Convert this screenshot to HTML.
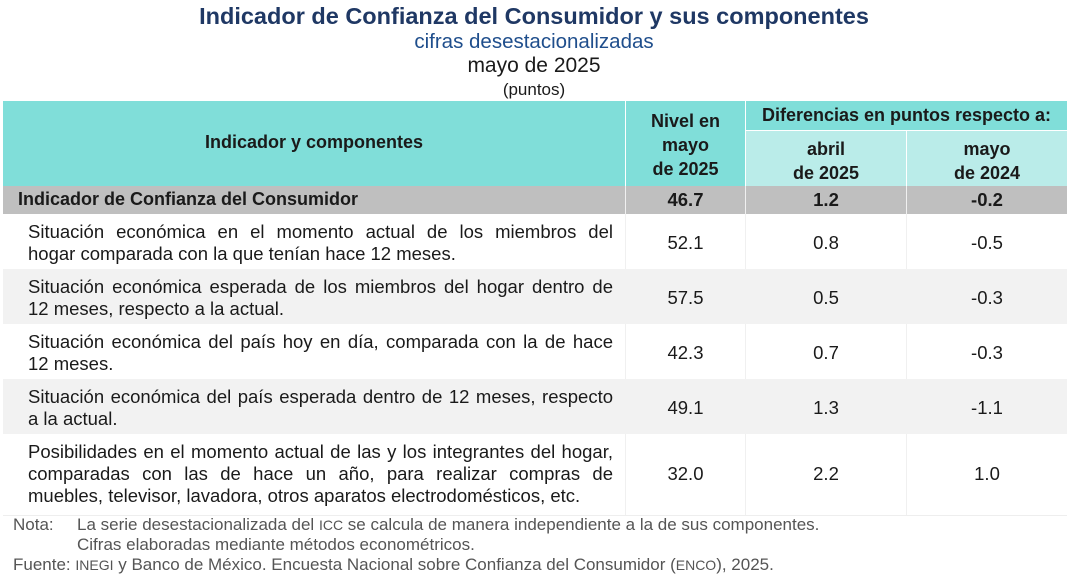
<!DOCTYPE html>
<html><head><meta charset="utf-8"><style>
body{margin:0;width:1068px;height:580px;background:#fff;font-family:"Liberation Sans",Arial,sans-serif;position:relative;overflow:hidden;color:#1a1a1a}
.a{position:absolute}
.c{text-align:center}
.t{font-size:18.5px;line-height:22px;white-space:nowrap}
.j{text-align:justify;text-align-last:justify;white-space:normal}
.n{font-size:18.5px;text-align:center}
.b{font-weight:bold}
.h{font-size:18px}
</style></head><body>
<div class="a c b" style="left:0;width:1068px;top:3px;font-size:23.5px;color:#1f3864">Indicador de Confianza del Consumidor y sus componentes</div>
<div class="a c" style="left:0;width:1068px;top:30px;font-size:20.5px;color:#1f4e8c">cifras desestacionalizadas</div>
<div class="a c" style="left:0;width:1068px;top:54px;font-size:21px">mayo de 2025</div>
<div class="a c" style="left:0;width:1068px;top:80px;font-size:17px">(puntos)</div>

<div class="a" style="left:3px;top:101px;width:1064px;height:85px;background:#80ded9"></div>
<div class="a" style="left:746px;top:131px;width:321px;height:55px;background:#baece9"></div>
<div class="a" style="left:625px;top:101px;width:1px;height:85px;background:#fff"></div>
<div class="a" style="left:745px;top:101px;width:1px;height:85px;background:#fff"></div>
<div class="a" style="left:746px;top:130px;width:321px;height:1px;background:#fff"></div>
<div class="a" style="left:906px;top:131px;width:1px;height:55px;background:#fff"></div>
<div class="a c b h" style="left:3px;width:622px;top:132px">Indicador y componentes</div>
<div class="a c b h" style="left:626px;width:119px;top:109px;line-height:24px">Nivel en<br>mayo<br>de 2025</div>
<div class="a c b h" style="left:746px;width:321px;top:105px">Diferencias en puntos respecto a:</div>
<div class="a c b h" style="left:746px;width:160px;top:137px;line-height:24px">abril<br>de 2025</div>
<div class="a c b h" style="left:907px;width:160px;top:137px;line-height:24px">mayo<br>de 2024</div>

<div class="a" style="left:3px;top:186px;width:1064px;height:28px;background:#bfbfbf"></div>
<div class="a b h" style="left:18px;top:189px">Indicador de Confianza del Consumidor</div>
<div class="a n b" style="left:626px;width:119px;top:189px">46.7</div>
<div class="a n b" style="left:746px;width:160px;top:189px">1.2</div>
<div class="a n b" style="left:907px;width:160px;top:189px">-0.2</div>
<div class="a" style="left:625px;top:186px;width:1px;height:329px;background:#f0f0f0"></div>
<div class="a" style="left:745px;top:186px;width:1px;height:329px;background:#f0f0f0"></div>
<div class="a" style="left:906px;top:186px;width:1px;height:329px;background:#f0f0f0"></div>

<div class="a" style="left:3px;top:269px;width:1064px;height:55px;background:#f2f2f2"></div>
<div class="a" style="left:3px;top:379px;width:1064px;height:55px;background:#f2f2f2"></div>

<div class="a t" style="left:28px;width:585px;top:221px"><div class="j">Situación económica en el momento actual de los miembros del</div><div>hogar comparada con la que tenían hace 12 meses.</div></div>
<div class="a n" style="left:626px;width:119px;top:232px">52.1</div><div class="a n" style="left:746px;width:160px;top:232px">0.8</div><div class="a n" style="left:907px;width:160px;top:232px">-0.5</div>

<div class="a t" style="left:28px;width:585px;top:276px"><div class="j">Situación económica esperada de los miembros del hogar dentro de</div><div>12 meses, respecto a la actual.</div></div>
<div class="a n" style="left:626px;width:119px;top:287px">57.5</div><div class="a n" style="left:746px;width:160px;top:287px">0.5</div><div class="a n" style="left:907px;width:160px;top:287px">-0.3</div>

<div class="a t" style="left:28px;width:585px;top:331px"><div class="j">Situación económica del país hoy en día, comparada con la de hace</div><div>12 meses.</div></div>
<div class="a n" style="left:626px;width:119px;top:342px">42.3</div><div class="a n" style="left:746px;width:160px;top:342px">0.7</div><div class="a n" style="left:907px;width:160px;top:342px">-0.3</div>

<div class="a t" style="left:28px;width:585px;top:386px"><div class="j">Situación económica del país esperada dentro de 12 meses, respecto</div><div>a la actual.</div></div>
<div class="a n" style="left:626px;width:119px;top:397px">49.1</div><div class="a n" style="left:746px;width:160px;top:397px">1.3</div><div class="a n" style="left:907px;width:160px;top:397px">-1.1</div>

<div class="a t" style="left:28px;width:585px;top:441px"><div class="j">Posibilidades en el momento actual de las y los integrantes del hogar,</div><div class="j">comparadas con las de hace un año, para realizar compras de</div><div>muebles, televisor, lavadora, otros aparatos electrodomésticos, etc.</div></div>
<div class="a n" style="left:626px;width:119px;top:463px">32.0</div><div class="a n" style="left:746px;width:160px;top:463px">2.2</div><div class="a n" style="left:907px;width:160px;top:463px">1.0</div>
<div class="a" style="left:3px;top:515px;width:1064px;height:1px;background:#eee"></div>

<div class="a" style="left:13px;top:515px;font-size:17px;color:#555;line-height:20px">Nota:</div>
<div class="a" style="left:77px;top:515px;font-size:17px;color:#555;line-height:20px;white-space:nowrap">La serie desestacionalizada del <span style="font-size:14px">ICC</span> se calcula de manera independiente a la de sus componentes.<br>Cifras elaboradas mediante métodos econométricos.</div>
<div class="a" style="left:13px;top:555px;font-size:17px;color:#555;line-height:20px;white-space:nowrap">Fuente: <span style="font-size:14px">INEGI</span> y Banco de México. Encuesta Nacional sobre Confianza del Consumidor (<span style="font-size:14px">ENCO</span>), 2025.</div>
</body></html>
